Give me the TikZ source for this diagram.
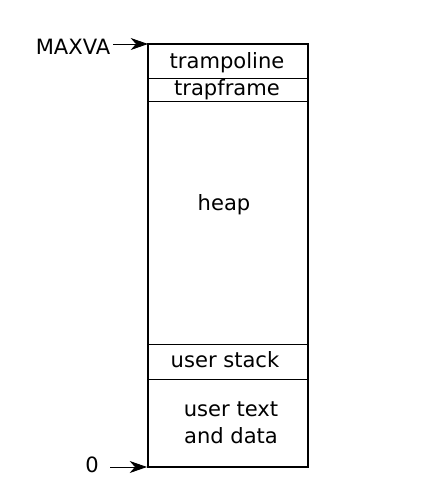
\documentclass[tikz,border=0pt]{standalone}
\usepackage{fontspec}
\setmainfont{DejaVu Sans}
\usetikzlibrary{arrows.meta}

\tikzset{
 region/.style={font=\fontsize{15.8}{20}\selectfont, align=center, inner sep=0pt},
 addr/.style={-{Stealth[length=13pt,width=9pt,inset=4pt]}, line width=.6pt}
}

\begin{document}
\begin{tikzpicture}[x=.75pt, y=-.75pt]
\useasboundingbox (0,0) rectangle (421,497);

 % the address space
 \coordinate (top) at (148,44);
 \coordinate (bottom) at (147,467);
 \draw[line width=1.3pt] (148,44) rectangle (308,467);
 \draw[line width=.5pt] (148,78) -- (308,78);
 \draw[line width=.5pt] (148,101) -- (308,101);
 \draw[line width=.5pt] (148,344) -- (308,344);
 \draw[line width=.5pt] (148,379) -- (308,379);

 \node[region] (tramp) at (227,63) {trampoline};
 \node[region] (trapf) at (227,90) {trapframe};
 \node[region] (heap) at (224,205) {heap};
 \node[region] (ustack) at (225,360) {user stack};
 \node[region] (utext) at (231,423) {user text\\and data};

 % addresses
 \node[region] (maxva) at (73,47) {MAXVA};
 \node[region] (zero) at (92,465) {0};
 \coordinate (maxvaend) at (113,44);
 \coordinate (zeroend) at (110,467);
 \draw[addr] (maxvaend) -- (top);
 \draw[addr] (zeroend) -- (bottom);

\end{tikzpicture}
\end{document}
